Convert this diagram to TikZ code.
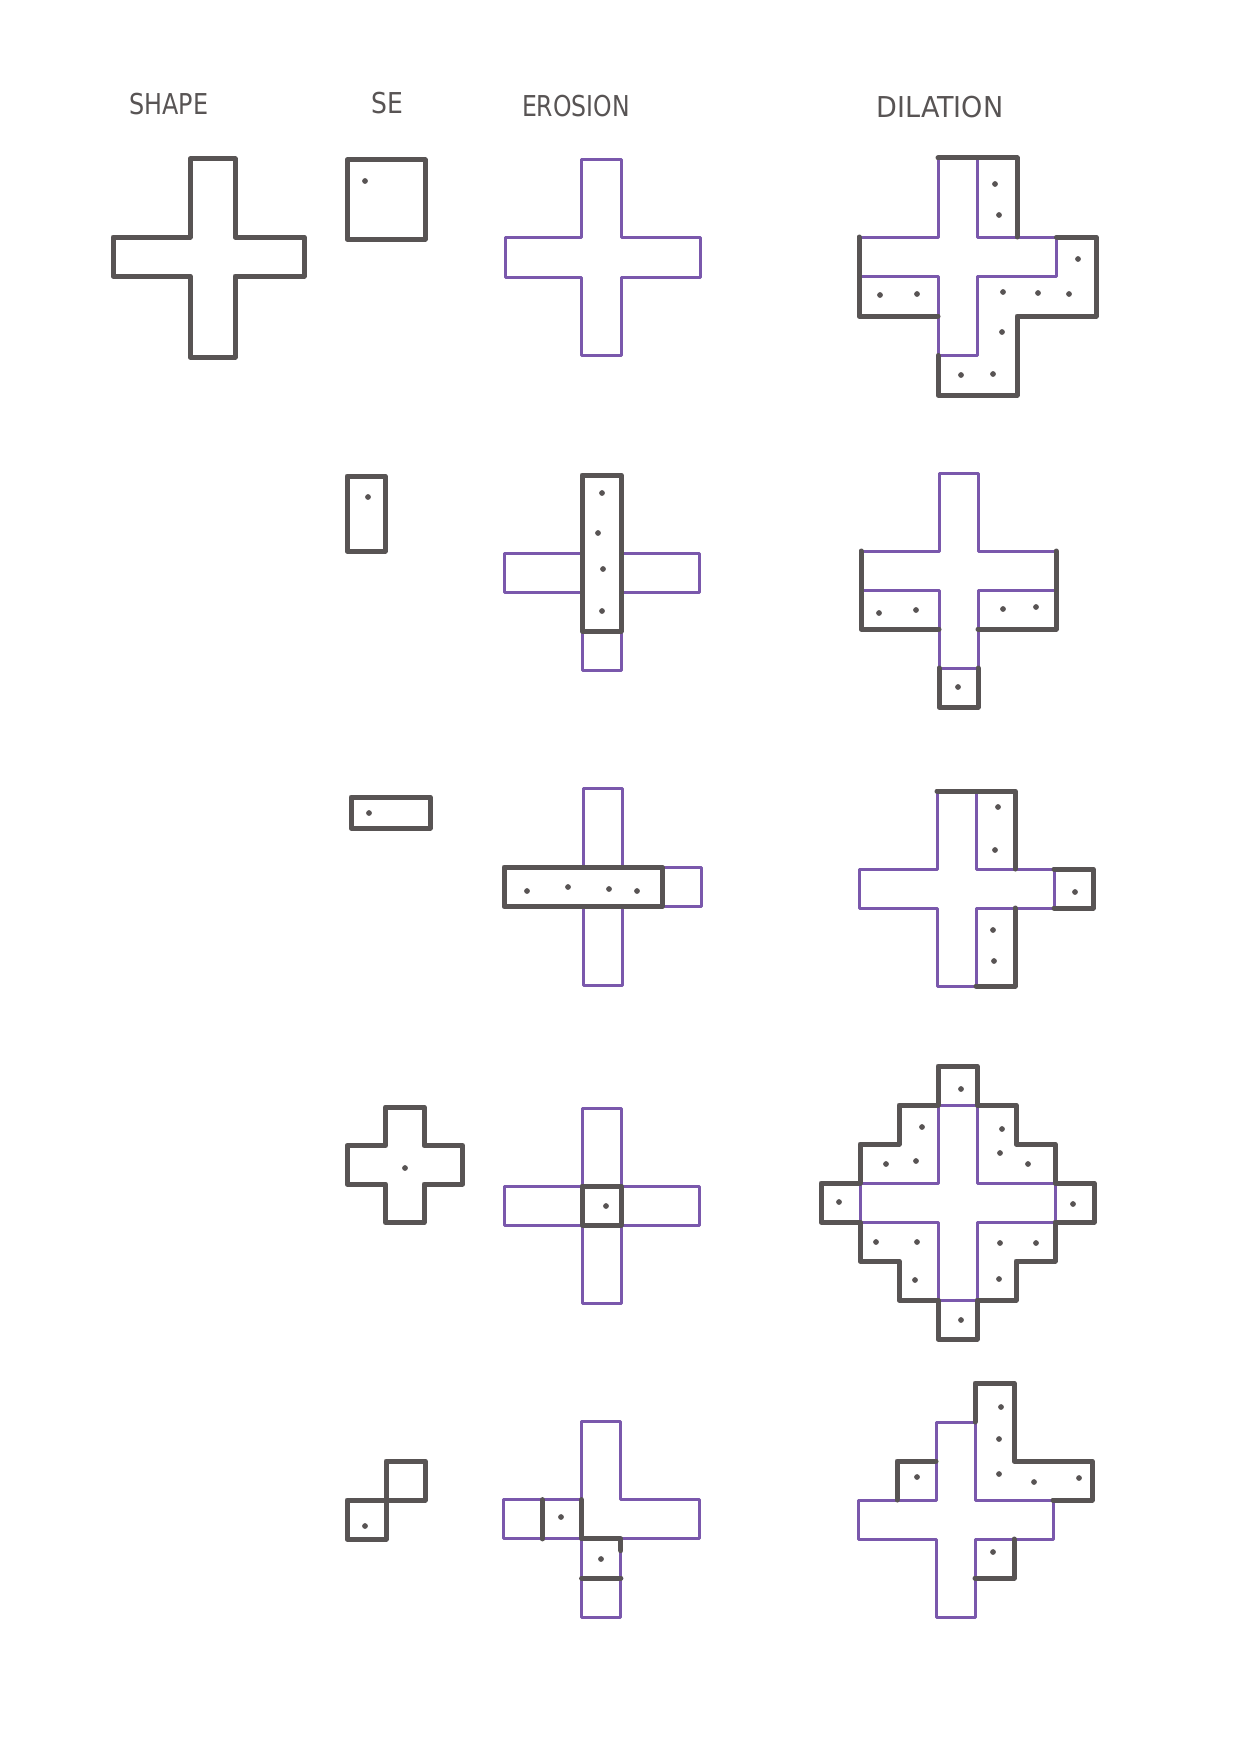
\documentclass[tikz,border=0pt]{standalone}
\usepackage{fontspec}
\setmainfont{DejaVu Sans}
\definecolor{pen}{RGB}{88,84,84}
\definecolor{ink}{RGB}{122,88,172}
\newcommand\purplecross{\draw[pline] (2,0)--(3,0)--(3,2)--(5,2)--(5,3)--(3,3)--(3,5)--(2,5)--(2,3)--(0,3)--(0,2)--(2,2)--cycle;}
\newcommand\dotsat[1]{\foreach \dx/\dy in {#1}{\fill[pen] (\dx,\dy) circle[radius=1.15pt];}}
\begin{document}
\begin{tikzpicture}[x=0.4pt,y=-0.4pt,
  gline/.style={draw=pen,line width=2pt,line join=round,line cap=round},
  pline/.style={draw=ink,line width=1.2pt,line join=round,line cap=round},
  cellgrid/.style n args={3}{xshift=#1*0.4pt,yshift=-#2*0.4pt,x=#3*0.4pt,y=-#3*0.4pt},
  head/.style={text=pen,font=\fontsize{11.5}{12}\selectfont,inner sep=0pt}]
\useasboundingbox (0,0) rectangle (1248,1759);
\fill[white] (0,0) rectangle (1248,1759);

% headers
\node[head,xscale=0.83] (shapelabel) at (169,104) {SHAPE};
\node[head,xscale=0.87] (selabel) at (387,103) {SE};
\node[head,xscale=0.82] (erosionlabel) at (576,106) {EROSION};
\node[head,xscale=0.94] (dilationlabel) at (940,107) {DILATION};

% ---------- row 1 ----------
\draw[gline] (190,159)--(235,159)--(235,237)--(304,237)--(304,276)--(235,276)--(235,357)--(190,357)--(190,276)--(113,276)--(113,237)--(190,237)--cycle;
\draw[gline] (347,160) rectangle (425,239);
\dotsat{365/181}
\draw[pline] (581,160)--(621,160)--(621,237)--(700,237)--(700,277)--(621,277)--(621,355)--(581,355)--(581,277)--(505,277)--(505,237)--(581,237)--cycle;
\begin{scope}[cellgrid={859}{158}{39.5}]
  \purplecross
  \draw[gline] (0,2)--(0,4)--(2,4);
  \draw[gline] (2,5)--(2,6)--(4,6)--(4,4)--(6,4)--(6,2)--(5,2);
  \draw[gline] (4,2)--(4,0)--(2,0);
\end{scope}
\dotsat{995/184,999/215,1078/259,880/295,917/294,1003/292,1038/293,1069/294,1002/332,961/375,993/374}

% ---------- row 2 ----------
\draw[gline] (347,476) rectangle (385,551);
\dotsat{368/497}
\begin{scope}[cellgrid={504}{475}{39}]
  \purplecross
  \draw[gline] (2,0) rectangle (3,4);
\end{scope}
\dotsat{602/493,598/533,603/569,602/611}
\begin{scope}[cellgrid={861}{473}{39}]
  \purplecross
  \draw[gline] (0,2)--(0,4)--(2,4);
  \draw[gline] (3,4)--(5,4)--(5,2);
  \draw[gline] (2,5)--(2,6)--(3,6)--(3,5);
\end{scope}
\dotsat{879/613,916/610,1003/609,1036/607,958/687}

% ---------- row 3 ----------
\draw[gline] (351,797) rectangle (430,828);
\dotsat{369/813}
\begin{scope}[cellgrid={504}{788}{39.5}]
  \purplecross
  \draw[gline] (0,2) rectangle (4,3);
\end{scope}
\dotsat{527/891,568/887,609/889,637/891}
\begin{scope}[cellgrid={859}{791}{39}]
  \purplecross
  \draw[gline] (2,0)--(4,0)--(4,2);
  \draw[gline] (5,2)--(6,2)--(6,3)--(5,3);
  \draw[gline] (4,3)--(4,5)--(3,5);
\end{scope}
\dotsat{998/807,995/850,1075/892,993/930,994/961}

% ---------- row 4 ----------
\begin{scope}[cellgrid={347}{1107}{38.5}]
  \draw[gline] (1,0)--(2,0)--(2,1)--(3,1)--(3,2)--(2,2)--(2,3)--(1,3)--(1,2)--(0,2)--(0,1)--(1,1)--cycle;
\end{scope}
\dotsat{405/1168}
\begin{scope}[cellgrid={504}{1108}{39}]
  \purplecross
  \draw[gline] (2,2) rectangle (3,3);
\end{scope}
\dotsat{606/1206}
\begin{scope}[cellgrid={860}{1105}{39}]
  \purplecross
  \draw[gline] (2,-1)--(3,-1)--(3,0)--(4,0)--(4,1)--(5,1)--(5,2)--(6,2)--(6,3)--(5,3)--(5,4)--(4,4)--(4,5)--(3,5)--(3,6)--(2,6)--(2,5)--(1,5)--(1,4)--(0,4)--(0,3)--(-1,3)--(-1,2)--(0,2)--(0,1)--(1,1)--(1,0)--(2,0)--cycle;
\end{scope}
\dotsat{961/1089,922/1127,886/1164,916/1161,839/1202,876/1242,917/1242,915/1280,961/1320,1000/1243,1036/1243,999/1279,1073/1204,1002/1129,1000/1153,1028/1164}

% ---------- row 5 ----------
\begin{scope}[cellgrid={347}{1461}{39}]
  \draw[gline] (1,0) rectangle (2,1);
  \draw[gline] (0,1) rectangle (1,2);
\end{scope}
\dotsat{365/1526}
\begin{scope}[cellgrid={503}{1421}{39.3}]
  \purplecross
  \draw[gline] (1,2)--(1,3);
  \draw[gline] (2,2)--(2,3)--(3,3)--(3,3.3);
  \draw[gline] (2,4)--(3,4);
\end{scope}
\dotsat{561/1517,601/1559}
\begin{scope}[cellgrid={858}{1422}{39}]
  \purplecross
  \draw[gline] (3,0)--(3,-1)--(4,-1)--(4,1)--(6,1)--(6,2)--(5,2);
  \draw[gline] (1,2)--(1,1)--(2,1);
  \draw[gline] (4,3)--(4,4)--(3,4);
\end{scope}
\dotsat{1001/1407,999/1439,999/1474,1034/1482,1079/1478,917/1477,993/1552}
\end{tikzpicture}
\end{document}
